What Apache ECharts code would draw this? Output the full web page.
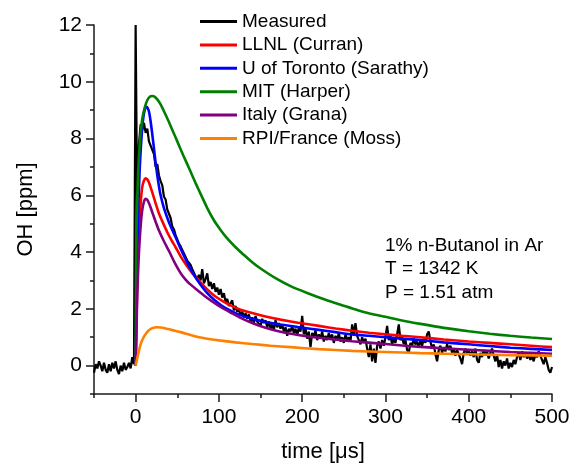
<!DOCTYPE html>
<html><head><meta charset="utf-8">
<script src="https://cdn.jsdelivr.net/npm/echarts@6/dist/echarts.min.js"></script>
<style>html,body{margin:0;padding:0;background:#fff}#c{width:572px;height:466px}</style>
</head><body><div id="c"></div>
<script>
// Measured trace: start time, step (µs) and values
const measuredStart = -50;
const measuredStep = 2;
const measuredValues = [
 -0.25,0.05,-0.1,0.15,0.0,-0.2,0.1,-0.15,-0.25,0.05,
 -0.2,0.1,-0.1,0.15,-0.15,-0.3,0.0,-0.2,0.1,-0.15,
 -0.05,0.1,-0.1,0.3,0.05,12,5.0,7.8,8.5,8.3,
 8.55,8.2,8.35,7.9,7.95,7.6,7.45,7.0,7.1,6.7,
 6.5,6.35,5.95,5.85,5.5,5.35,5.2,4.9,4.8,4.6,
 4.55,4.3,4.2,4.25,3.95,3.9,3.7,3.75,3.55,3.4,
 3.35,3.15,3.05,3.2,3.0,3.4,2.9,3.05,3.25,2.8,
 2.95,2.7,2.9,2.6,2.75,2.5,2.7,2.4,2.55,2.25,
 2.35,2.1,2.05,2.3,1.95,2.1,1.9,2.0,1.75,1.9,
 1.7,1.85,1.65,1.8,1.55,1.7,1.5,1.75,1.55,1.6,
 1.4,1.65,1.5,1.6,1.35,1.55,1.3,1.45,1.25,1.6,
 1.35,1.5,1.3,1.45,1.2,1.35,1.05,1.3,1.2,1.4,
 1.15,1.3,1.05,1.35,1.2,1.75,1.1,1.3,0.95,1.2,
 0.65,1.15,1.0,1.25,0.9,1.1,0.95,1.2,0.85,1.05,
 0.9,1.15,0.95,1.1,0.8,1.05,0.9,1.15,0.85,1.0,
 0.8,1.1,0.9,1.0,0.85,1.45,1.1,1.5,1.05,0.9,
 0.75,1.0,0.8,0.95,0.6,0.3,0.75,0.15,0.6,0.1,
 0.7,0.85,0.6,0.9,0.7,1.0,1.4,0.9,1.05,0.75,
 0.95,0.8,1.1,1.45,0.9,1.0,0.75,0.9,0.55,0.45,
 0.8,0.7,0.95,0.75,0.85,0.65,0.9,0.7,0.95,0.8,
 1.1,1.2,0.85,0.6,0.75,0.4,0.15,0.55,0.7,0.45,
 0.65,0.5,0.75,0.55,0.7,0.45,0.6,0.35,0.55,0.4,
 0.25,0.05,0.45,0.6,0.4,0.55,0.35,0.5,0.3,0.6,
 0.2,0.1,0.45,0.3,0.55,0.35,0.5,0.25,0.45,0.6,
 0.35,0.15,0.4,-0.05,0.2,-0.1,0.15,0.0,0.25,-0.1,
 0.1,-0.05,0.2,0.05,0.3,0.45,0.2,0.5,0.3,0.45,
 0.25,0.4,0.2,0.35,0.15,0.4,0.3,0.5,0.35,0.2,
 0.05,0.3,0.1,-0.15,-0.25,-0.05
];

// Model curves: [time µs, OH ppm]
const llnl = [[0,0],[1,1.6],[2,3],[3.5,4.4],[5,5.3],[6.5,5.9],[8,6.3],[10,6.52],[12,6.6],[14,6.56],[16,6.45],[20,6.1],[24,5.72],[28,5.36],[33,5.02],[38,4.7],[43,4.42],[48,4.17],[54,3.85],[60,3.58],[68,3.26],[78,2.93],[86,2.68],[95,2.45],[104,2.28],[114,2.12],[126,1.97],[140,1.85],[156,1.73],[174,1.62],[195,1.51],[220,1.4],[240,1.31],[260,1.23],[280,1.16],[300,1.1],[320,1.05],[342,1.0],[370,0.92],[400,0.85],[425,0.8],[450,0.75],[475,0.7],[500,0.65]];
const toronto = [[0,0],[1,2.2],[2,4],[3.5,5.8],[5,7],[6.5,7.8],[8,8.4],[9.5,8.8],[11,9.02],[12.5,9.12],[14,9.1],[16,8.95],[18,8.6],[20,8.15],[22,7.65],[24,7.15],[26,6.7],[28,6.32],[30,6.0],[34,5.55],[40,5.05],[44,4.78],[48,4.52],[54,4.12],[60,3.75],[65,3.45],[72,3.1],[78,2.85],[86,2.55],[95,2.3],[104,2.1],[114,1.94],[126,1.78],[140,1.65],[156,1.54],[174,1.45],[195,1.36],[220,1.26],[240,1.18],[260,1.1],[280,1.05],[300,1.0],[320,0.95],[342,0.9],[370,0.82],[400,0.75],[425,0.69],[450,0.63],[475,0.59],[500,0.55]];
const mit = [[0,0],[0.5,3.0],[1,4.8],[2,5.9],[3,6.8],[4,7.4],[6,8.2],[8,8.7],[11,9.1],[14,9.35],[17,9.47],[20,9.5],[23,9.47],[26,9.38],[30,9.2],[35,8.9],[40,8.58],[45,8.24],[50,7.9],[57,7.42],[65,6.9],[72,6.43],[78,6.05],[86,5.55],[94,5.12],[102,4.78],[110,4.48],[120,4.17],[130,3.9],[140,3.64],[150,3.42],[168,3.08],[186,2.8],[206,2.56],[228,2.32],[250,2.11],[266,1.96],[282,1.83],[300,1.72],[320,1.59],[342,1.47],[370,1.33],[400,1.21],[425,1.12],[450,1.05],[475,0.99],[500,0.94]];
const italy = [[0,0],[1,1.3],[2,2.5],[3.5,3.7],[5,4.5],[6.5,5.1],[8,5.5],[10,5.78],[12,5.88],[14,5.84],[16,5.72],[18,5.57],[20,5.4],[24,5.07],[28,4.76],[34,4.38],[40,4.04],[47,3.62],[54,3.26],[60,3.03],[65,2.88],[72,2.71],[78,2.57],[86,2.38],[95,2.2],[104,2.03],[114,1.87],[126,1.68],[140,1.5],[156,1.33],[174,1.19],[195,1.08],[220,0.98],[240,0.92],[260,0.86],[280,0.81],[300,0.76],[320,0.71],[342,0.66],[370,0.61],[400,0.56],[425,0.52],[450,0.48],[475,0.45],[500,0.42]];
const rpi = [[0,0],[1.5,0.2],[3,0.4],[4.5,0.59],[6,0.75],[8,0.9],[10,1.02],[12.5,1.13],[15,1.22],[17.5,1.28],[20,1.32],[23,1.345],[26,1.35],[30,1.345],[35,1.32],[44,1.25],[54,1.18],[66,1.08],[78,0.99],[90,0.93],[100,0.89],[120,0.82],[140,0.76],[162,0.7],[186,0.65],[220,0.58],[260,0.52],[300,0.48],[342,0.44],[370,0.42],[400,0.4],[450,0.37],[500,0.35]];

const seriesNames = ['Measured','LLNL (Curran)','U of Toronto (Sarathy)','MIT (Harper)','Italy (Grana)','RPI/France (Moss)'];
const seriesColors = ['#000000','#ff0000','#0000ff','#008000','#800080','#ff8000'];

const xMajorTicks = [0,100,200,300,400,500];
const xMinorTicks = [-50,50,150,250,350,450];
const yMajorTicks = [0,2,4,6,8,10,12];
const yMinorTicks = [-1,1,3,5,7,9,11];

const annotation = ['1% n-Butanol in Ar','T = 1342 K','P = 1.51 atm'];

const FONT = 'Liberation Sans, Arial, sans-serif';
const measured = measuredValues.map((v,i)=>[measuredStart + i*measuredStep, v]);
const modelData = [llnl, toronto, mit, italy, rpi];

const axisLineStyle = {color:'#1a1a1a', width:1.5};
const chart = echarts.init(document.getElementById('c'), null, {renderer:'canvas'});
const series = [{
  name: seriesNames[0], type:'line', data: measured, showSymbol:false, symbol:'none',
  lineStyle:{color:seriesColors[0], width:2.2}, itemStyle:{color:seriesColors[0]}, animation:false, z:2
}];
modelData.forEach((d,k)=>{
  series.push({
    name: seriesNames[k+1], type:'line', data:d, showSymbol:false, symbol:'none',
    smooth:0.2,
    lineStyle:{color:seriesColors[k+1], width:2.6}, itemStyle:{color:seriesColors[k+1]}, animation:false, z:3
  });
});

const legendData = seriesNames.map((n,i)=>({name:n, icon:'rect', itemStyle:{color:seriesColors[i]}}));

chart.setOption({
  animation:false,
  backgroundColor:'#fff',
  grid:{left:94, right:20, top:25, bottom:72, containLabel:false, outerBoundsMode:'none'},
  legend:{
    orient:'vertical', left:200, top:10, padding:0, itemWidth:37, itemHeight:3, itemGap:0.4, itemTextGap:5,
    data: legendData,
    textStyle:{fontFamily:FONT, fontSize:19, color:'#000', lineHeight:23},
    selectedMode:false
  },
  graphic:[{
    type:'text', left:385, top:234,
    style:{text: annotation.join('\n'), font:'19px '+FONT, fill:'#000', lineHeight:23.5}
  }],
  xAxis:[{
    type:'value', min:-50, max:500, position:'bottom',
    axisLine:{show:true, onZero:false, lineStyle:axisLineStyle},
    axisTick:{show:true, customValues:xMajorTicks, length:8, lineStyle:axisLineStyle},
    axisLabel:{customValues:xMajorTicks, fontFamily:FONT, fontSize:21, color:'#000', margin:13},
    splitLine:{show:false},
    name:'time [μs]', nameLocation:'middle', nameGap:47,
    nameTextStyle:{fontFamily:FONT, fontSize:22, color:'#000'}
  },{
    type:'value', min:-50, max:500, position:'bottom',
    axisLine:{show:false, onZero:false},
    axisTick:{show:true, customValues:xMinorTicks, length:4, lineStyle:axisLineStyle},
    axisLabel:{show:false}, splitLine:{show:false}
  }],
  yAxis:[{
    type:'value', min:-1, max:12, position:'left',
    axisLine:{show:true, onZero:false, lineStyle:axisLineStyle},
    axisTick:{show:true, customValues:yMajorTicks, length:8, lineStyle:axisLineStyle},
    axisLabel:{customValues:yMajorTicks, fontFamily:FONT, fontSize:21, color:'#000', margin:12},
    splitLine:{show:false},
    name:'OH [ppm]', nameLocation:'middle', nameGap:57, nameRotate:90,
    nameTextStyle:{fontFamily:FONT, fontSize:22, color:'#000'}
  },{
    type:'value', min:-1, max:12, position:'left',
    axisLine:{show:false, onZero:false},
    axisTick:{show:true, customValues:yMinorTicks, length:4, lineStyle:axisLineStyle},
    axisLabel:{show:false}, splitLine:{show:false}
  }],
  series: series
});
</script>
</body></html>
